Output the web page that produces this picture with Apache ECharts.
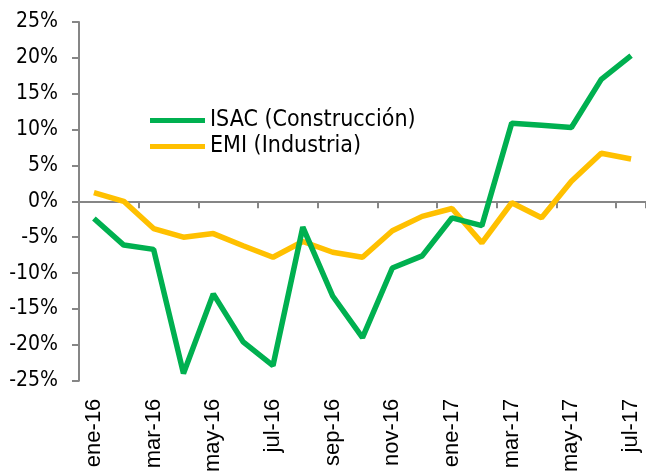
<!DOCTYPE html>
<html>
<head>
<meta charset="utf-8">
<script src="https://cdn.jsdelivr.net/npm/echarts@6/dist/echarts.min.js"></script>
<style>
  html, body { margin: 0; padding: 0; background: #fff; }
  #chart { width: 646px; height: 475px; }
</style>
</head>
<body>
<div id="chart"></div>
<script>
// meses ene-16 .. jul-17
const months = ['ene-16', 'feb-16', 'mar-16', 'abr-16', 'may-16', 'jun-16', 'jul-16', 'ago-16', 'sep-16', 'oct-16',
  'nov-16', 'dic-16', 'ene-17', 'feb-17', 'mar-17', 'abr-17', 'may-17', 'jun-17', 'jul-17'];

// variación anual, %
const isac = [-2.4, -6.1, -6.7, -24.0, -12.9, -19.6, -22.9, -3.6, -13.2, -19.0,
  -9.3, -7.6, -2.3, -3.4, 10.9, 10.6, 10.3, 17.0, 20.3];
const emi = [1.2, 0.0, -3.8, -5.0, -4.5, -6.2, -7.8, -5.6, -7.1, -7.8,
  -4.1, -2.1, -1.0, -5.8, -0.2, -2.3, 2.8, 6.7, 5.9];

const seriesNames = ['ISAC (Construcción)', 'EMI (Industria)'];
const axisGray = '#868686';

const chart = echarts.init(document.getElementById('chart'));
chart.setOption({
  animation: false,
  backgroundColor: '#fff',
  grid: { left: 79, top: 22, width: 570, height: 360 },
  legend: {
    data: seriesNames,
    orient: 'vertical',
    left: 150,
    top: 109,
    padding: 0,
    icon: 'rect',
    itemWidth: 55,
    itemHeight: 5,
    itemGap: 3,
    textStyle: { fontFamily: 'DejaVu Sans Condensed', fontSize: 23, color: '#000' }
  },
  xAxis: [
    {
      // linea en el cero con marcas
      type: 'category',
      data: months,
      position: 'top',
      axisLine: { show: true, onZero: true, lineStyle: { color: axisGray, width: 2 } },
      axisTick: { show: true, inside: true, length: 7, interval: 1, lineStyle: { color: axisGray, width: 2 } },
      axisLabel: { show: false },
      splitLine: { show: false }
    },
    {
      // etiquetas abajo
      type: 'category',
      data: months,
      position: 'bottom',
      axisLine: { show: false, onZero: false },
      axisTick: { show: false },
      axisLabel: {
        interval: 1,
        rotate: 90,
        margin: 18,
        fontFamily: 'Liberation Sans',
        fontSize: 22,
        color: '#000'
      },
      splitLine: { show: false }
    }
  ],
  yAxis: {
    type: 'value',
    min: -25,
    max: 25,
    interval: 5,
    axisLine: { show: true, lineStyle: { color: axisGray, width: 2 } },
    axisTick: { show: true, inside: false, length: 7, lineStyle: { color: axisGray, width: 2 } },
    axisLabel: {
      formatter: '{value}%',
      margin: 21,
      fontFamily: 'DejaVu Sans Condensed',
      fontSize: 21,
      color: '#000'
    },
    splitLine: { show: false }
  },
  series: [
    {
      name: seriesNames[0],
      type: 'line',
      xAxisIndex: 0,
      data: isac,
      color: '#00B050',
      symbol: 'none',
      lineStyle: { width: 5.5, color: '#00B050' }
    },
    {
      name: seriesNames[1],
      type: 'line',
      xAxisIndex: 0,
      data: emi,
      color: '#FFC000',
      symbol: 'none',
      z: 1,
      lineStyle: { width: 5.5, color: '#FFC000' }
    }
  ]
});
</script>
</body>
</html>
